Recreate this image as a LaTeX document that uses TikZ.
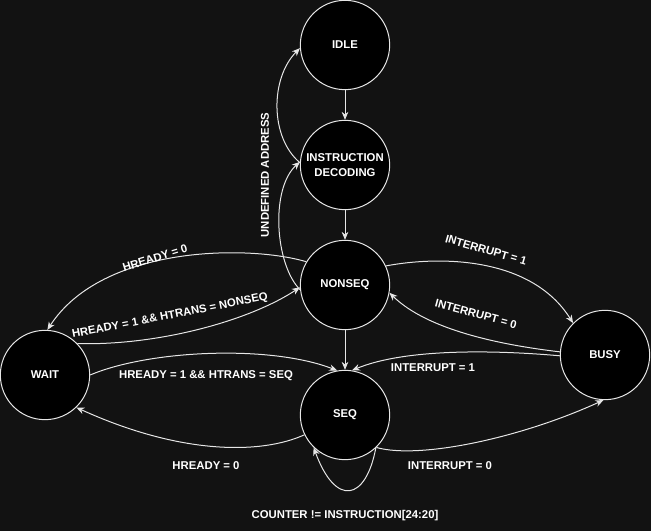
\documentclass[tikz,border=0pt]{standalone}
\usepackage{fontspec}
\setmainfont{Liberation Sans}
\usetikzlibrary{arrows.meta}
\definecolor{bgc}{HTML}{121212}
\definecolor{linec}{HTML}{E6E6E6}
\begin{document}
\begin{tikzpicture}[x=0.75pt,y=-0.75pt,
        state/.style={circle,draw=linec,fill=black,line width=0.75pt,minimum size=67pt,inner sep=0pt,align=center,text=white,font=\fontsize{8.5}{11.25}\selectfont\bfseries},
        lbl/.style={text=white,inner sep=0pt,font=\fontsize{8.5}{10}\selectfont\bfseries},
        tr/.style={draw=linec,line width=0.75pt,-{Stealth[length=6pt,width=5pt]}}]
            \fill[bgc] (0,0) rectangle (651,531);
            \useasboundingbox (0,0) rectangle (651,531);
            % states
            \node[state] (idle) at (345,45) {IDLE};
            \node[state] (decode) at (345,165) {INSTRUCTION\\DECODING};
            \node[state] (nonseq) at (345,285) {NONSEQ};
            \node[state] (seq) at (345,415) {SEQ};
            \node[state] (wait) at (45,375) {WAIT};
            \node[state] (busy) at (605,355) {BUSY};
            % straight transitions
            \draw[tr] (idle) -- (decode);
            \draw[tr] (decode) -- (nonseq);
            \draw[tr] (nonseq) -- (seq);
            % curved transitions
            \draw[tr] (decode.177) .. controls +(-30,-25) and +(-30,30) .. (idle.184);
            \draw[tr] (nonseq.186) .. controls +(-25,-25) and +(-30,27) .. (decode.176);
            \draw[tr] (nonseq.149) .. controls +(-57,-17) and +(55,-85) .. (wait.87);
            \draw[tr] (wait.44) .. controls +(82,2) and +(-50,33) .. (nonseq.183);
            \draw[tr] (wait.0) .. controls +(59,-25) and +(-67,-26) .. (seq.100);
            \draw[tr] (busy.181) .. controls +(-80,-7) and +(48,-20) .. (seq.81);
            \draw[tr] (busy.176) .. controls +(-60,-7) and +(38,37) .. (nonseq.350);
            \draw[tr] (nonseq.25) .. controls +(53,-10) and +(-42,-67) .. (busy.135);
            \draw[tr] (seq.314) .. controls +(43,12) and +(-83,38) .. (busy.268);
            \draw[tr] (seq.206) .. controls +(-44,20) and +(103,47) .. (wait.314);
            \draw[tr] (seq.313) .. controls +(-10,53) and +(22,60) .. (seq.226);
            % labels
            \node[lbl,rotate=90] (lundef) at (265,175) {UNDEFINED ADDRESS};
            \node[lbl,rotate=17] (lhr0a) at (155,258) {HREADY = 0};
            \node[lbl,rotate=11] (lhrns) at (170,316) {HREADY = 1 \&\& HTRANS = NONSEQ};
            \node[lbl] (lhrs) at (206,376) {HREADY = 1 \&\& HTRANS = SEQ};
            \node[lbl,rotate=-16] (lint1a) at (486,250) {INTERRUPT = 1};
            \node[lbl,rotate=-15] (lint0a) at (476,314) {INTERRUPT = 0};
            \node[lbl] (lint1b) at (433,368) {INTERRUPT = 1};
            \node[lbl] (lint0b) at (450,466) {INTERRUPT = 0};
            \node[lbl] (lhr0b) at (206,466) {HREADY = 0};
            \node[lbl] (lcount) at (345,516) {COUNTER != INSTRUCTION[24:20]};
        \end{tikzpicture}
\end{document}
